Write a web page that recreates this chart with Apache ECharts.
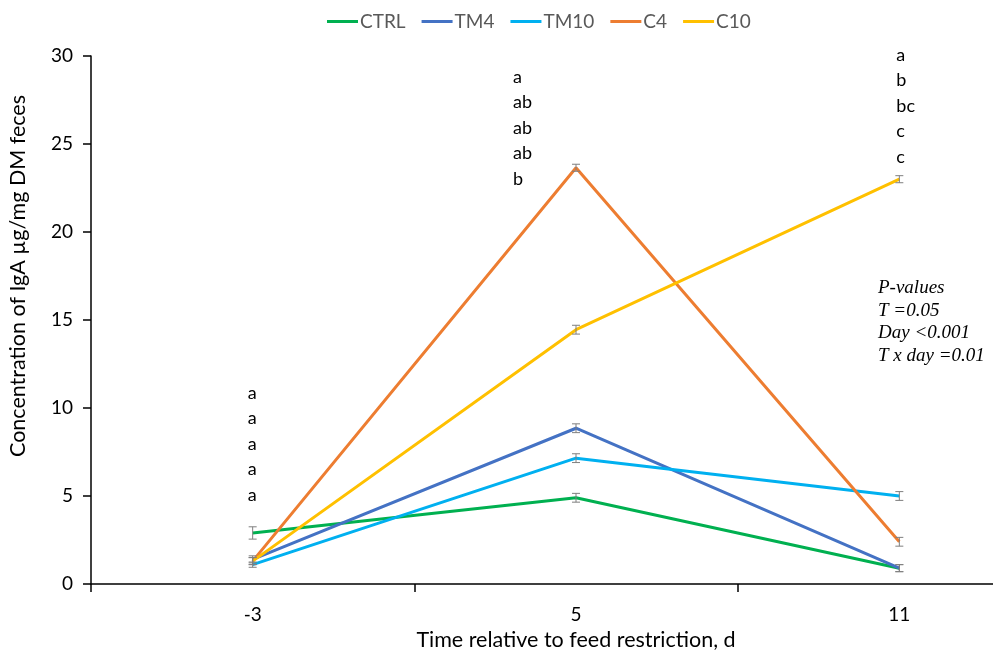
<!DOCTYPE html>
<html>
<head>
<meta charset="utf-8">
<script src="https://cdn.jsdelivr.net/npm/echarts@6/dist/echarts.min.js"></script>
<style>
  html, body {margin: 0; padding: 0; background: #fff;}
  #chart {width: 993px; height: 657px;}
</style>
</head>
<body>
<div id="chart"></div>
<script>
const days = ['-3', '5', '11'];
const groups = ['CTRL', 'TM4', 'TM10', 'C4', 'C10'];
const colors = ['#00B050', '#4472C4', '#00B0F0', '#ED7D31', '#FFC000'];

const ctrl = [2.9, 4.9, 0.9];
const tm4 = [1.4, 8.85, 0.9];
const tm10 = [1.1, 7.15, 5.0];
const c4 = [1.3, 23.65, 2.4];
const c10 = [1.3, 14.45, 23.0];

const ctrlErr = [0.35, 0.25, 0.2];
const tm4Err = [0.2, 0.25, 0.2];
const tm10Err = [0.15, 0.25, 0.25];
const c4Err = [0.2, 0.2, 0.25];
const c10Err = [0.2, 0.25, 0.2];

// letters above each day, top line's y value
const letters = [
    ['a', 'a', 'a', 'a', 'a'],
    ['a', 'ab', 'ab', 'ab', 'b'],
    ['a', 'b', 'bc', 'c', 'c']
];
const letterTop = [10.85, 28.8, 30.05];

const pValues = ['P-values', 'T =0.05', 'Day <0.001', 'T x day =0.01'];

const values = [ctrl, tm4, tm10, c4, c10];
const errors = [ctrlErr, tm4Err, tm10Err, c4Err, c10Err];

const chart = echarts.init(document.getElementById('chart'));

const seriesList = [];
groups.forEach(function (name, i) {
    seriesList.push({
        type: 'line',
        name: name,
        data: values[i],
        showSymbol: false,
        symbol: 'none',
        z: 3,
        lineStyle: {color: colors[i], width: 3},
        itemStyle: {color: colors[i]}
    });
});

// error bars
const errData = [];
values.forEach(function (vals, i) {
    vals.forEach(function (v, j) {
        errData.push([j, v - errors[i][j], v + errors[i][j]]);
    });
});
seriesList.push({
    type: 'custom',
    name: 'err',
    data: errData,
    z: 4,
    silent: true,
    renderItem: function (params, api) {
        const lo = api.coord([api.value(0), api.value(1)]);
        const hi = api.coord([api.value(0), api.value(2)]);
        const w = 4;
        const style = {stroke: '#7f7f7f', lineWidth: 1};
        return {
            type: 'group',
            children: [
                {type: 'line', shape: {x1: lo[0], y1: lo[1], x2: hi[0], y2: hi[1]}, style: style},
                {type: 'line', shape: {x1: lo[0] - w, y1: lo[1], x2: lo[0] + w, y2: lo[1]}, style: style},
                {type: 'line', shape: {x1: hi[0] - w, y1: hi[1], x2: hi[0] + w, y2: hi[1]}, style: style}
            ]
        };
    }
});

// significance letters
const letterDx = [-5, -63, -3];
seriesList.push({
    type: 'custom',
    name: 'letters',
    data: letterTop.map(function (t, j) { return [j, t]; }),
    silent: true,
    renderItem: function (params, api) {
        const j = params.dataIndex;
        const p = api.coord([api.value(0), api.value(1)]);
        return {
            type: 'group',
            children: letters[j].map(function (s, k) {
                return {
                    type: 'text',
                    x: p[0] + letterDx[j],
                    y: p[1] + k * 25.5,
                    style: {
                        text: s, fill: '#000', font: '18px Lato, sans-serif',
                        textAlign: 'left', textVerticalAlign: 'middle'
                    }
                };
            })
        };
    }
});

const option = {
    animation: false,
    color: colors,
    legend: {
        data: groups,
        top: 7,
        left: 322,
        itemWidth: 31,
        itemHeight: 3,
        itemGap: 16,
        icon: 'rect',
        textStyle: {color: '#595959', fontSize: 19, fontFamily: 'Lato', padding: [0, 0, 0, -3]}
    },
    grid: {left: 91, top: 56, width: 970, bottom: 73, containLabel: false, outerBoundsMode: 'none'},
    xAxis: {
        type: 'category',
        data: days,
        boundaryGap: true,
        name: 'Time relative to feed restriction, d',
        nameLocation: 'middle',
        nameGap: 41,
        nameTextStyle: {color: '#000', fontSize: 21.5, fontFamily: 'Lato', verticalAlign: 'top'},
        axisLine: {lineStyle: {color: '#000', width: 1.5}},
        axisTick: {show: true, length: 8, lineStyle: {color: '#000', width: 1.5}},
        axisLabel: {color: '#000', fontSize: 19, fontFamily: 'Lato', margin: 21}
    },
    yAxis: {
        type: 'value',
        min: 0,
        max: 30,
        interval: 5,
        name: 'Concentration of IgA µg/mg DM feces',
        nameLocation: 'middle',
        nameGap: 62,
        nameTextStyle: {color: '#000', fontSize: 21.5, fontFamily: 'Lato', padding: [0, 0, 0, 88]},
        splitLine: {show: false},
        axisLine: {show: true, lineStyle: {color: '#000', width: 1.5}},
        axisTick: {show: true, length: 8, lineStyle: {color: '#000', width: 1.5}},
        axisLabel: {color: '#000', fontSize: 19, fontFamily: 'Lato', margin: 18}
    },
    graphic: [
        {
            type: 'text',
            left: 878,
            top: 277,
            style: {
                text: pValues.join('\n'),
                fill: '#000',
                lineHeight: 22.5,
                font: 'italic 19px "Liberation Serif", serif'
            }
        }
    ],
    series: seriesList
};

chart.setOption(option);
</script>
</body>
</html>
